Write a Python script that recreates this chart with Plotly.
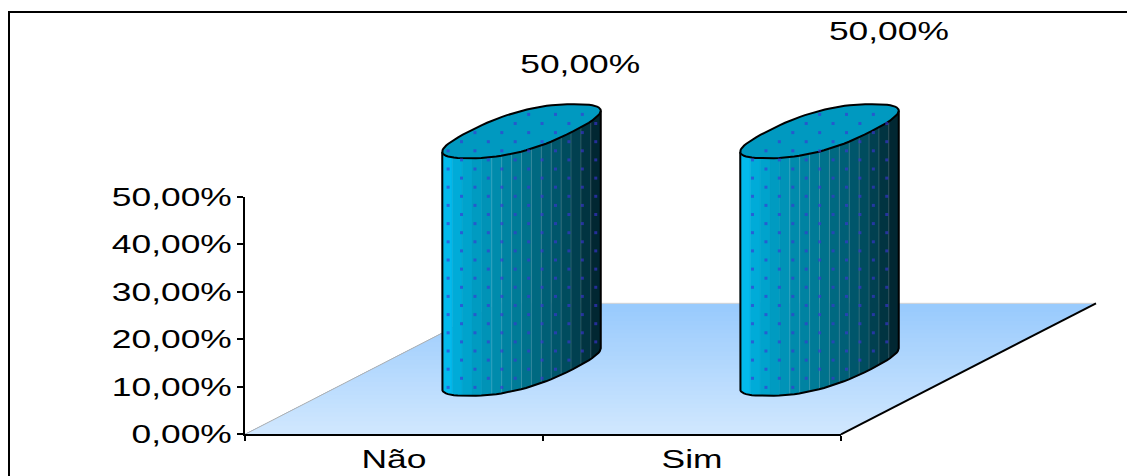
import numpy as np
import plotly.graph_objects as go

# ---- chart data ----
categories = ["Não", "Sim"]
values = [0.5, 0.5]
label_texts = ["50,00%", "50,00%"]
label_shift_x = [0.197, 0.233]    # label offset from cylinder centre (category units)
label_shift_y = [0.136, 0.205]    # label offset above cylinder top (value units)

# ---- scale of the main axes (px per unit) ----
W, H = 1127, 476
PX_CAT = 298.0
PX_VAL = 475.2
X0_PX, Y0_PX = 394.0, 434.3
xr = [-X0_PX / PX_CAT, (W - X0_PX) / PX_CAT]
yr = [(Y0_PX - H) / PX_VAL, Y0_PX / PX_VAL]

# oblique depth vector of the floor (for depth 0..1)
DX, DY = 255 / PX_CAT, 131 / PX_VAL
BAR_DEPTH = 0.5
RAD_X, RAD_D = 52 / PX_CAT, 27 / 131
SQUARENESS = 0.8

def floor(x, d):
    return x + d * DX, d * DY

fig = go.Figure()

def poly(xs, ys, fill, line=None, lw=0):
    fig.add_trace(go.Scatter(x=xs, y=ys, mode="lines", fill="toself", fillcolor=fill,
                             line=dict(color=line or fill, width=lw), hoverinfo="skip",
                             showlegend=False, xaxis="x", yaxis="y"))

def lines(xs, ys, color, lw):
    fig.add_trace(go.Scatter(x=xs, y=ys, mode="lines", line=dict(color=color, width=lw),
                             hoverinfo="skip", showlegend=False, xaxis="x", yaxis="y"))

# ---- floor with gradient, back to front ----
xl, xh = -0.5, 1.5
c_back, c_front = np.array([0x99, 0xCB, 0xFD]), np.array([0xD0, 0xE7, 0xFF])
N_BANDS = 30
for i in range(N_BANDS):
    d = 1 - i / N_BANDS
    c = c_back + (c_front - c_back) * (i / (N_BANDS - 1))
    p = [floor(xl, 0), floor(xh, 0), floor(xh, d), floor(xl, d), floor(xl, 0)]
    poly([q[0] for q in p], [q[1] for q in p], "rgb(%d,%d,%d)" % tuple(c), None, 0)
a, b = floor(xl, 1), floor(xh, 1)
lines([a[0], b[0]], [a[1], b[1]], "#d4d4d4", 1)
o = floor(xl, 0)
lines([o[0], a[0]], [o[1], a[1]], "#b0b0b0", 1)
o2 = floor(xh, 0)
lines([o2[0], b[0]], [o2[1], b[1]], "#000000", 2)

# ---- cylinders ----
def se(v):
    return np.sign(v) * np.abs(v) ** SQUARENESS

def ring(cx, base, t):
    px, py = floor(cx, BAR_DEPTH)
    c, s = se(np.cos(t)), se(np.sin(t))
    return (px + RAD_X * c + RAD_D * DX * s,
            py + base + RAD_D * DY * s)

T0 = np.arctan2(RAD_D * DX * PX_CAT, RAD_X * PX_CAT)
T0 = np.pi / 4
dense = np.linspace(T0 - np.pi, T0, 721)          # front arc, left to right
off_x = (ring(0.0, 0, dense)[0] - floor(0.0, BAR_DEPTH)[0]) * PX_CAT
off_y = (ring(0.0, 0, dense)[1] - floor(0.0, BAR_DEPTH)[1]) * PX_VAL
order = np.argsort(off_x)
t_of_x = lambda v: np.interp(v, off_x[order], dense[order])
low_of_x = lambda v: np.interp(v, off_x[order], off_y[order])
HALF_W = off_x.max()

stops_f = [0.0, 0.05, 0.18, 0.48, 0.75, 0.93, 1.0]
stops_c = [(8, 200, 255), (0, 178, 225), (0, 160, 200), (0, 122, 150), (0, 82, 102), (2, 48, 60), (1, 32, 42)]
N_FACET = 16
dot_offset = [-60.0, -67.0]   # texture phase, px from cylinder centre
dot_y0 = 305.5                 # texture row phase, px

for k, (cat, val) in enumerate(zip(categories, values)):
    cx = float(k)
    edges = np.linspace(-HALF_W, HALF_W, N_FACET + 1)
    angs = t_of_x(edges)
    angs[0], angs[-1] = dense[0], dense[-1]
    for j in range(N_FACET):
        t = np.linspace(angs[j], angs[j + 1], 5)
        xb, yb = ring(cx, 0, t)
        xt, yt = ring(cx, val, t)
        f = (j + 0.5) / N_FACET
        col = [np.interp(f, stops_f, [c[m] for c in stops_c]) for m in range(3)]
        poly(list(xb) + list(xt[::-1]) + [xb[0]], list(yb) + list(yt[::-1]) + [yb[0]],
             "rgb(%d,%d,%d)" % tuple(col), None, 0.5)
    # facet seams
    sx, sy = [], []
    for j in range(5, N_FACET):
        t = np.array([angs[j]])
        xb, yb = ring(cx, 0, t)
        xt, yt = ring(cx, val, t)
        sx += [xb[0], xt[0], None]
        sy += [yb[0], yt[0], None]
    lines(sx, sy, "rgba(255,255,255,0.16)", 1)
    # outline of the body
    tf = np.linspace(T0 - np.pi, T0, 41)
    xb, yb = ring(cx, 0, tf)
    xt, yt = ring(cx, val, tf)
    lines([xt[0]] + list(xb) + [xt[-1]], [yt[0]] + list(yb) + [yt[-1]], "#000000", 2)
    # top cap
    tt = np.linspace(0, 2 * np.pi, 81)
    xc, yc = ring(cx, val, tt)
    poly(list(xc), list(yc), "#0099C0", "#000000", 2)

    # dot texture
    cpx = X0_PX + PX_CAT * (cx + BAR_DEPTH * DX)
    top_py = Y0_PX - PX_VAL * (BAR_DEPTH * DY + val)
    base_py = Y0_PX - PX_VAL * (BAR_DEPTH * DY)
    dx_list, dy_list = [], []
    for r in range(-30, 12):
        ypx = dot_y0 + 9.1 * r
        shift = 0 if r % 2 == 0 else -13.4
        for q in range(-8, 10):
            xpx = cpx + dot_offset[k] + shift + 26.85 * q
            u = xpx - cpx
            if abs(u) > 0.94 * HALF_W:
                continue
            y_bottom = base_py - low_of_x(u) - 3          # lower arc (px)
            y_top = top_py + low_of_x(-u) + 3             # upper arc, point symmetric
            if y_top < ypx < y_bottom:
                dx_list.append((xpx - X0_PX) / PX_CAT)
                dy_list.append((Y0_PX - ypx) / PX_VAL)
    fig.add_trace(go.Scatter(x=dx_list, y=dy_list, mode="markers",
                             marker=dict(symbol="square", size=3, color="rgba(60,50,215,0.62)", line=dict(width=0)),
                             hoverinfo="skip", showlegend=False, xaxis="x", yaxis="y"))

# ---- data labels ----
lx = [i + BAR_DEPTH * DX + label_shift_x[i] for i in range(len(values))]
ly = [BAR_DEPTH * DY + values[i] + label_shift_y[i] for i in range(len(values))]
fig.add_trace(go.Scatter(x=lx, y=ly, mode="text", text=label_texts, textposition="middle center",
                         textfont=dict(family="Liberation Sans", size=26, color="#000000"),
                         hoverinfo="skip", showlegend=False, xaxis="x", yaxis="y"))

# ---- visible axes (drawn over the floor) ----
fig.add_trace(go.Scatter(x=categories, y=values, mode="markers", marker=dict(opacity=0),
                         hoverinfo="skip", showlegend=False, xaxis="x2", yaxis="y2"))

font = dict(family="Liberation Sans", size=26, color="#000000")
fig.update_layout(
    template="none",
    width=W, height=H, autosize=False,
    margin=dict(l=0, r=0, t=0, b=0, pad=0),
    paper_bgcolor="#ffffff", plot_bgcolor="rgba(0,0,0,0)",
    separators=",.",
    showlegend=False,
    xaxis=dict(domain=[0, 1], range=xr, visible=False, fixedrange=True, automargin=False),
    yaxis=dict(domain=[0, 1], range=yr, visible=False, fixedrange=True, automargin=False),
    xaxis2=dict(domain=[245 / W, 841 / W], anchor="y2", type="category", automargin=False,
                categoryorder="array", categoryarray=categories, range=[-0.5, 1.5],
                tickson="boundaries", ticks="outside", ticklen=5, tickwidth=2, tickcolor="#000",
                showline=True, linecolor="#000", linewidth=2, showgrid=False, zeroline=False,
                tickfont=font, fixedrange=True),
    yaxis2=dict(domain=[(H - Y0_PX) / H, (H - 196.7) / H], anchor="x2", range=[0, 0.5], dtick=0.1,
                automargin=False,
                tickformat=".2%", ticks="outside", ticklen=6, tickwidth=2, tickcolor="#000",
                showline=True, linecolor="#000", linewidth=2, showgrid=False, zeroline=False,
                tickfont=font, fixedrange=True),
    shapes=[dict(type="rect", xref="paper", yref="paper", x0=9 / W, x1=1.02, y0=-0.02, y1=1 - 12 / H,
                 line=dict(color="#000", width=2), fillcolor="rgba(0,0,0,0)", layer="below")],
)

stretch = """
document.body.style.margin='0';
var gd=document.getElementById('{plot_id}');
gd.querySelectorAll('text').forEach(function(t){
  var l=t.getComputedTextLength();
  if(l>0){t.setAttribute('textLength',l*1.36);t.setAttribute('lengthAdjust','spacingAndGlyphs');}
});
"""
fig.write_html("out.html", post_script=stretch, config={"displayModeBar": False})
